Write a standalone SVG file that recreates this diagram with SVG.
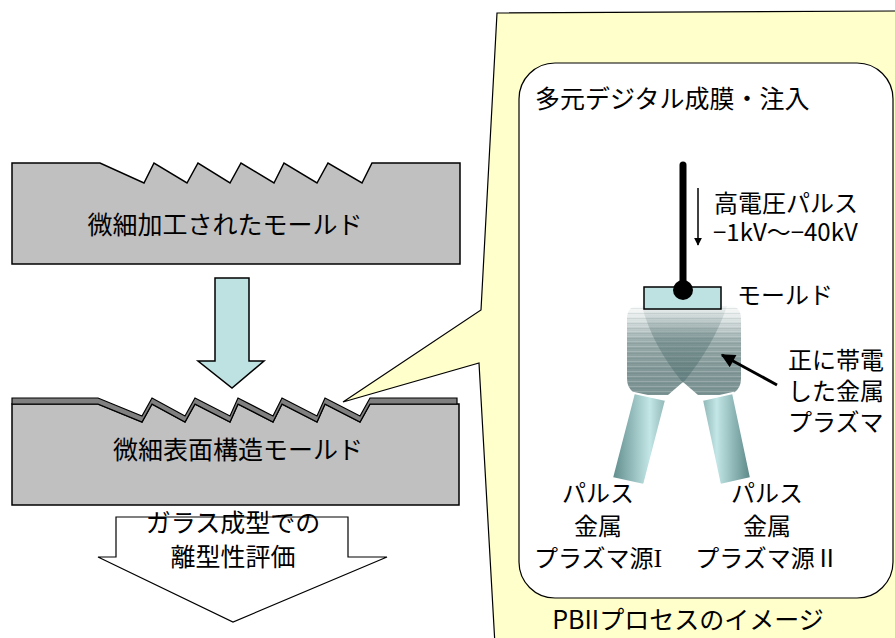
<svg xmlns="http://www.w3.org/2000/svg" width="895" height="638" viewBox="0 0 895 638">
  <style>
    .t { font-family: "Noto Sans CJK JP", "Liberation Sans", sans-serif; font-size: 25px; fill: #000; }
    .s { font-size: 24px; }
    .mid { text-anchor: middle; }
    .serif { font-family: "Liberation Serif", serif; font-size: 26px; }
    .mold { fill: #c0c0c0; stroke: #000; stroke-width: 1.5; stroke-linejoin: miter; }
    .cyan { fill: #bee1e2; stroke: #000; stroke-width: 1.5; }
  </style>
  <defs>
    <marker id="headSmall" viewBox="0 0 10 10" refX="9" refY="5" markerWidth="8" markerHeight="9" markerUnits="userSpaceOnUse" orient="auto">
      <path d="M0,0 L10,5 L0,10 Z" fill="#000"/>
    </marker>
    <marker id="headBig" viewBox="0 0 10 10" refX="9" refY="5" markerWidth="16" markerHeight="14" markerUnits="userSpaceOnUse" orient="auto">
      <path d="M0,0 L10,5 L0,10 Z" fill="#000"/>
    </marker>
    <linearGradient id="plasmaFill" x1="0" y1="0" x2="0" y2="1">
      <stop offset="0" stop-color="#ffffff"/>
      <stop offset="0.15" stop-color="#dfe5e5"/>
      <stop offset="0.4" stop-color="#9aacac"/>
      <stop offset="0.7" stop-color="#839898"/>
      <stop offset="1" stop-color="#7d9494"/>
    </linearGradient>
    <linearGradient id="coneFill" x1="0" y1="0" x2="0" y2="1">
      <stop offset="0" stop-color="#3f6262" stop-opacity="0.05"/>
      <stop offset="0.35" stop-color="#3f6262" stop-opacity="0.3"/>
      <stop offset="1" stop-color="#3f6262" stop-opacity="0.4"/>
    </linearGradient>
    <pattern id="bands" width="6" height="5" patternUnits="userSpaceOnUse">
      <rect width="6" height="1" y="1" fill="#ffffff" opacity="0.18"/>
      <rect width="6" height="1" y="3" fill="#3f5a5a" opacity="0.12"/>
    </pattern>
    <linearGradient id="tubeLeft" x1="0" y1="0" x2="1" y2="0">
      <stop offset="0" stop-color="#5f8b8b"/>
      <stop offset="0.7" stop-color="#c3e6e6"/>
      <stop offset="1" stop-color="#8fb5b5"/>
    </linearGradient>
    <linearGradient id="tubeRight" x1="0" y1="0" x2="1" y2="0">
      <stop offset="0" stop-color="#8db4b4"/>
      <stop offset="0.3" stop-color="#c3e6e6"/>
      <stop offset="1" stop-color="#5a8686"/>
    </linearGradient>
  </defs>

  <!-- Yellow callout with wedge pointing at the coated mold -->
  <g id="callout">
    <path d="M497,13 L900,11 L900,645 L495,645 L479,363 L343,402 L481,310 Z" fill="#ffffcc" stroke="#000" stroke-width="1.2"/>
    <text class="t mid" x="688" y="629">PBIIプロセスのイメージ</text>
  </g>

  <!-- Inner white panel -->
  <g id="panel">
    <rect x="519" y="63" width="374" height="535" rx="36" ry="36" fill="#ffffff" stroke="#000" stroke-width="1.2"/>
    <text class="t" x="535" y="108">多元デジタル成膜・注入</text>
  </g>

  <!-- Top: machined mold -->
  <g id="mold-machined">
    <path class="mold" d="M12,163 L100,163 L144,183 L154,163 L187,183 L198,163 L230,183 L241,163 L274,183 L284,163 L317,183 L328,163 L362,183 L372,163 L460,163 L460,264 L12,264 Z"/>
    <text class="t mid" x="225" y="234">微細加工されたモールド</text>
  </g>

  <!-- Process arrow -->
  <g id="arrow-process">
    <path class="cyan" d="M215,278 L249,278 L249,361 L264,361 L232,388 L198,361 L215,361 Z"/>
  </g>

  <!-- Coated micro-structured mold -->
  <g id="mold-coated">
    <path class="mold" d="M12,404 L98,404 L142,422 L152,404 L185,422 L195,404 L230,422 L238,404 L273,422 L282,404 L317,422 L325,404 L360,422 L370,404 L459,404 L459,505 L12,505 Z"/>
    <path d="M12,398 L98,398 L142,416 L152,398 L185,416 L195,398 L230,416 L238,398 L273,416 L282,398 L317,416 L325,398 L360,416 L370,398 L457,398 L457,404 L370,404 L360,422 L325,404 L317,422 L282,404 L273,422 L238,404 L230,422 L195,404 L185,422 L152,404 L142,422 L98,404 L12,404 Z" fill="#808080" stroke="#000" stroke-width="1.2"/>
    <text class="t mid" x="238" y="459">微細表面構造モールド</text>
  </g>

  <!-- Evaluation arrow -->
  <g id="arrow-evaluation">
    <path d="M116,517 L348,517 L348,557 L387,557 L233,622 L98,557 L116,557 Z" fill="#ffffff" stroke="#000" stroke-width="1.2"/>
    <text class="t mid" x="233" y="532">ガラス成型での</text>
    <text class="t mid" x="233" y="566">離型性評価</text>
  </g>

  <!-- Plasma blob and sources -->
  <g id="plasma">
    <path d="M641,305 H727 Q741,305 741,319 V378 Q741,393 726,395 L698,395 L683,382 L668,395 L642,395 Q627,393 627,378 V319 Q627,305 641,305 Z" fill="url(#plasmaFill)"/>
    <path d="M641,305 H727 Q741,305 741,319 V378 Q741,393 726,395 L698,395 L683,382 L668,395 L642,395 Q627,393 627,378 V319 Q627,305 641,305 Z" fill="url(#bands)"/>
    <path d="M642,306 L727,306 Q714,345 683,383 Q652,345 642,306 Z" fill="url(#coneFill)"/>
  </g>

  <g id="source-1">
    <path d="M634,393 L666,400 L644,485 L612,478 Z" fill="url(#tubeLeft)" stroke="#ffffff" stroke-width="2"/>
    <text class="t s mid" x="598" y="502">パルス</text>
    <text class="t s mid" x="598" y="535">金属</text>
    <text class="t s mid" x="598" y="567">プラズマ源<tspan class="serif">I</tspan></text>
  </g>

  <g id="source-2">
    <path d="M702,400 L733,393 L751,478 L720,485 Z" fill="url(#tubeRight)" stroke="#ffffff" stroke-width="2"/>
    <text class="t s mid" x="767" y="502">パルス</text>
    <text class="t s mid" x="767" y="535">金属</text>
    <text class="t s mid" x="767" y="567">プラズマ源Ⅱ</text>
  </g>

  <!-- Mold held on the high-voltage electrode -->
  <g id="mold-target">
    <rect class="cyan" x="644" y="287" width="77" height="22"/>
    <text class="t s" x="737" y="304">モールド</text>
  </g>

  <g id="electrode">
    <line x1="683" y1="165" x2="683" y2="288" stroke="#000" stroke-width="7" stroke-linecap="round"/>
    <circle cx="683" cy="290" r="10" fill="#000"/>
  </g>

  <g id="pulse-label">
    <text class="t s" x="714" y="212">高電圧パルス</text>
    <text class="t s" x="713" y="241">−1kV〜−40kV</text>
  </g>

  <g id="plasma-label">
    <text class="t s" x="788" y="369">正に帯電</text>
    <text class="t s" x="788" y="400">した金属</text>
    <text class="t s" x="788" y="431">プラズマ</text>
  </g>

  <!-- Connectors -->
  <g id="connectors">
    <line x1="698" y1="188" x2="698" y2="245" stroke="#000" stroke-width="1.5" marker-end="url(#headSmall)"/>
    <line x1="777" y1="385" x2="722" y2="355" stroke="#000" stroke-width="3" marker-end="url(#headBig)"/>
  </g>
</svg>
